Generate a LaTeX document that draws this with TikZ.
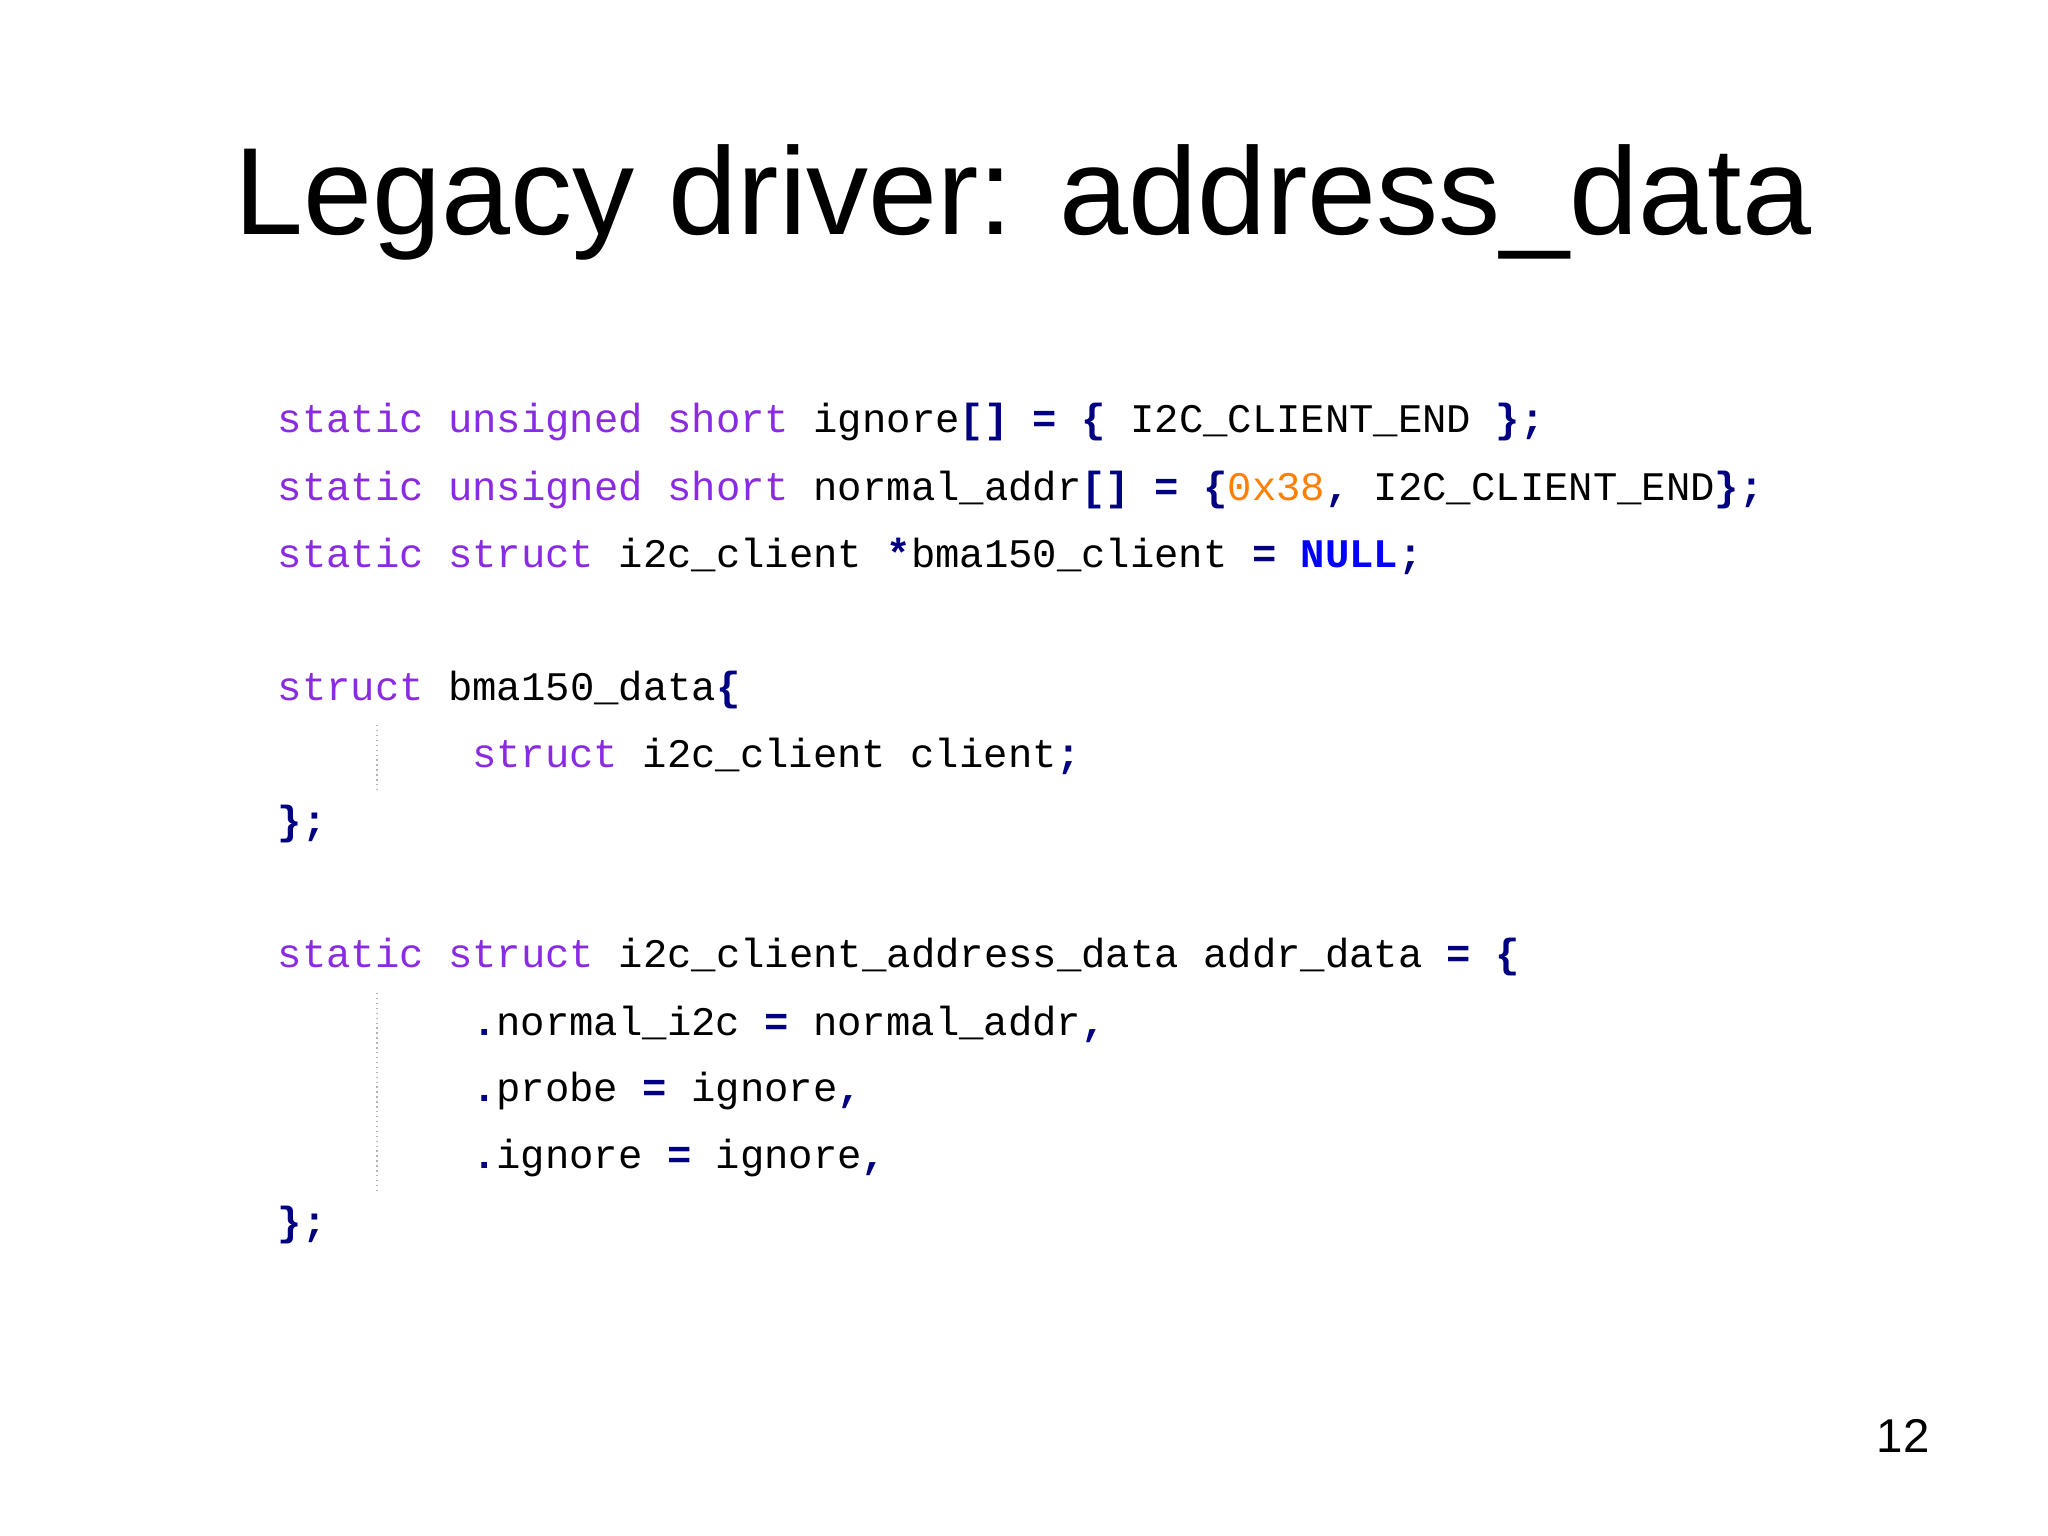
\documentclass[tikz,border=0pt]{standalone}
\usepackage{fontspec}
\setmainfont{Liberation Sans}
\setmonofont{Liberation Mono}
\definecolor{kwc}{HTML}{8A2BE2}
\definecolor{puc}{HTML}{000080}
\definecolor{orng}{HTML}{FF8000}
\definecolor{nullb}{HTML}{0000FF}
\newcommand{\kw}[1]{\textcolor{kwc}{#1}}
\newcommand{\pu}[1]{\textcolor{puc}{\bfseries #1}}
\tikzset{code/.style={anchor=west,inner sep=0pt,font=\ttfamily\fontsize{11.55pt}{12pt}\selectfont}}
\begin{document}
\begin{tikzpicture}
\useasboundingbox (0,0) rectangle (20.48,-15.36);
\node[inner sep=0pt,font=\fontsize{35.3pt}{40pt}\selectfont] (title) at (10.23,-2.02) {Legacy driver: address\_data};
\node[code] (l1) at (2.77,-4.22) {\kw{static unsigned short} ignore\pu{[] = \{} I2C\_CLIENT\_END \pu{\};}};
\node[code] (l2) at (2.77,-4.90) {\kw{static unsigned short} normal\_addr\pu{[] = \{}\textcolor{orng}{0x38}\pu{,} I2C\_CLIENT\_END\pu{\};}};
\node[code] (l3) at (2.77,-5.56) {\kw{static struct} i2c\_client \pu{*}bma150\_client \pu{=} \textcolor{nullb}{\bfseries NULL}\pu{;}};
\node[code] (l4) at (2.77,-6.90) {\kw{struct} bma150\_data\pu{\{}};
\node[code] (l5) at (4.715,-7.56) {\kw{struct} i2c\_client client\pu{;}};
\node[code] (l6) at (2.77,-8.24) {\pu{\};}};
\node[code] (l7) at (2.77,-9.57) {\kw{static struct} i2c\_client\_address\_data addr\_data \pu{= \{}};
\node[code] (l8) at (4.715,-10.24) {\pu{.}normal\_i2c \pu{=} normal\_addr\pu{,}};
\node[code] (l9) at (4.715,-10.91) {\pu{.}probe \pu{=} ignore\pu{,}};
\node[code] (l10) at (4.715,-11.58) {\pu{.}ignore \pu{=} ignore\pu{,}};
\node[code] (l11) at (2.77,-12.25) {\pu{\};}};
\draw[gray!60,densely dotted] (3.77,-7.25) -- (3.77,-7.90);
\draw[gray!60,densely dotted] (3.77,-9.93) -- (3.77,-11.91);
\node[inner sep=0pt,font=\fontsize{13.5pt}{16pt}\selectfont] (pg) at (19.03,-14.36) {12};
\end{tikzpicture}
\end{document}
